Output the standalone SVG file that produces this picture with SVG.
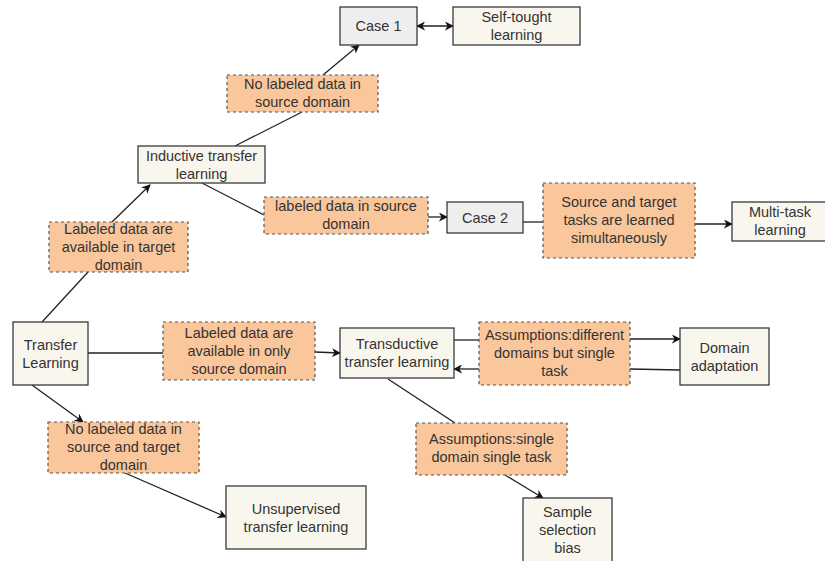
<svg xmlns="http://www.w3.org/2000/svg" width="825" height="561" viewBox="0 0 825 561">
  <style>
    .box { fill: #f9f7ed; stroke: #36393d; stroke-width: 1.3; }
    .case { fill: #eeeeee; stroke: #36393d; stroke-width: 1.3; }
    .cond { fill: #fac79c; stroke: #555555; stroke-width: 1.2; stroke-dasharray: 3 3; }
    text { font-family: "Liberation Sans", Arial, sans-serif; font-size: 14.5px; fill: #333333; text-anchor: middle; }
    .edge { fill: none; stroke: #222222; stroke-width: 1.3; }
  </style>
  <defs>
    <marker id="arrow" viewBox="0 0 10 10" refX="9" refY="5" markerWidth="9" markerHeight="9" markerUnits="userSpaceOnUse" orient="auto-start-reverse">
      <path d="M0,0 L10,5 L0,10 L3,5 Z" fill="#111111"/>
    </marker>
  </defs>
  <rect width="825" height="561" fill="#ffffff"/>

  <!-- connectors -->
  <g id="connectors">
    <line class="edge" x1="417" y1="26" x2="453" y2="26" marker-start="url(#arrow)" marker-end="url(#arrow)"/>
    <line class="edge" x1="235" y1="146" x2="302" y2="112"/>
    <line class="edge" x1="323" y1="75" x2="359" y2="45" marker-end="url(#arrow)"/>
    <line class="edge" x1="202" y1="183" x2="264" y2="215"/>
    <line class="edge" x1="428" y1="217" x2="447" y2="217" marker-end="url(#arrow)"/>
    <line class="edge" x1="523" y1="222" x2="543" y2="222"/>
    <line class="edge" x1="695" y1="224" x2="732" y2="224" marker-end="url(#arrow)"/>
    <line class="edge" x1="42" y1="322" x2="88" y2="272"/>
    <line class="edge" x1="112" y1="222" x2="150" y2="185" marker-end="url(#arrow)"/>
    <line class="edge" x1="88" y1="353" x2="163" y2="353"/>
    <line class="edge" x1="315" y1="352" x2="340" y2="353" marker-end="url(#arrow)"/>
    <line class="edge" x1="454" y1="340" x2="479" y2="340"/>
    <line class="edge" x1="630" y1="339" x2="680" y2="339" marker-end="url(#arrow)"/>
    <line class="edge" x1="680" y1="370" x2="630" y2="369"/>
    <line class="edge" x1="479" y1="369" x2="454" y2="369" marker-end="url(#arrow)"/>
    <line class="edge" x1="32" y1="385" x2="83" y2="422" marker-end="url(#arrow)"/>
    <line class="edge" x1="125" y1="473" x2="226" y2="517" marker-end="url(#arrow)"/>
    <line class="edge" x1="388" y1="379" x2="455" y2="423"/>
    <line class="edge" x1="505" y1="475" x2="543" y2="498" marker-end="url(#arrow)"/>
  </g>

  <!-- nodes -->
  <g id="case1">
    <rect class="case" x="340" y="7" width="77" height="38"/>
    <text x="378.5" y="31">Case 1</text>
  </g>
  <g id="self-taught">
    <rect class="box" x="453" y="7" width="127" height="38"/>
    <text x="516.5" y="22">Self-tought</text>
    <text x="516.5" y="40">learning</text>
  </g>
  <g id="cond-no-labeled-source">
    <rect class="cond" x="227" y="75" width="151" height="37"/>
    <text x="302.5" y="89">No labeled data in</text>
    <text x="302.5" y="107">source domain</text>
  </g>
  <g id="inductive">
    <rect class="box" x="138" y="146" width="127" height="37"/>
    <text x="201.5" y="161">Inductive transfer</text>
    <text x="201.5" y="179">learning</text>
  </g>
  <g id="cond-labeled-source">
    <rect class="cond" x="264" y="197" width="164" height="37"/>
    <text x="346" y="211">labeled data in source</text>
    <text x="346" y="229">domain</text>
  </g>
  <g id="case2">
    <rect class="case" x="447" y="202" width="76" height="31"/>
    <text x="485" y="223">Case 2</text>
  </g>
  <g id="cond-simultaneous">
    <rect class="cond" x="543" y="183" width="152" height="75"/>
    <text x="619" y="207">Source and target</text>
    <text x="619" y="225">tasks are learned</text>
    <text x="619" y="243">simultaneously</text>
  </g>
  <g id="multi-task">
    <rect class="box" x="732" y="202" width="96" height="39"/>
    <text x="780" y="217">Multi-task</text>
    <text x="780" y="235">learning</text>
  </g>
  <g id="cond-labeled-target">
    <rect class="cond" x="49" y="222" width="139" height="50"/>
    <text x="118.5" y="234">Labeled data are</text>
    <text x="118.5" y="252">available in target</text>
    <text x="118.5" y="270">domain</text>
  </g>
  <g id="transfer-learning">
    <rect class="box" x="13" y="322" width="75" height="63"/>
    <text x="50.5" y="350">Transfer</text>
    <text x="50.5" y="368">Learning</text>
  </g>
  <g id="cond-only-source">
    <rect class="cond" x="163" y="322" width="152" height="58"/>
    <text x="239" y="338">Labeled data are</text>
    <text x="239" y="356">available in only</text>
    <text x="239" y="374">source domain</text>
  </g>
  <g id="transductive">
    <rect class="box" x="340" y="328" width="114" height="50"/>
    <text x="397" y="349">Transductive</text>
    <text x="397" y="367">transfer learning</text>
  </g>
  <g id="cond-different-domains">
    <rect class="cond" x="479" y="322" width="151" height="63"/>
    <text x="554.5" y="340">Assumptions:different</text>
    <text x="554.5" y="358">domains but single</text>
    <text x="554.5" y="376">task</text>
  </g>
  <g id="domain-adaptation">
    <rect class="box" x="680" y="328" width="89" height="57"/>
    <text x="724.5" y="353">Domain</text>
    <text x="724.5" y="371">adaptation</text>
  </g>
  <g id="cond-no-labeled-both">
    <rect class="cond" x="48" y="422" width="151" height="51"/>
    <text x="123.5" y="434">No labeled data in</text>
    <text x="123.5" y="452">source and target</text>
    <text x="123.5" y="470">domain</text>
  </g>
  <g id="unsupervised">
    <rect class="box" x="226" y="486" width="140" height="63"/>
    <text x="296" y="514">Unsupervised</text>
    <text x="296" y="532">transfer learning</text>
  </g>
  <g id="cond-single-domain">
    <rect class="cond" x="416" y="423" width="151" height="52"/>
    <text x="491.5" y="444">Assumptions:single</text>
    <text x="491.5" y="462">domain single task</text>
  </g>
  <g id="sample-selection">
    <rect class="box" x="523" y="498" width="89" height="66"/>
    <text x="567.5" y="517">Sample</text>
    <text x="567.5" y="535">selection</text>
    <text x="567.5" y="553">bias</text>
  </g>
</svg>
